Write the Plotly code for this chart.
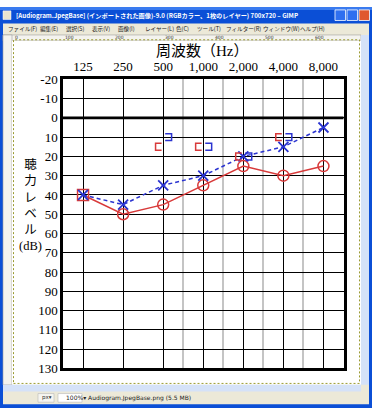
import math
import plotly.graph_objects as go

# ---------------- data ----------------
freqs = [125, 250, 500, 1000, 2000, 4000, 8000]
freq_labels = ["125", "250", "500", "1,000", "2,000", "4,000", "8,000"]
half_octaves = [707, 1414, 2828, 5657]
db_ticks = list(range(-20, 131, 10))

right_air = [40, 50, 45, 35, 25, 30, 25]          # red circles
right_air_symbols = ["square-open", "circle-open", "circle-open", "circle-open",
                     "circle-open", "circle-open", "circle-open"]
left_air = [40, 45, 35, 30, 20, 15, 5]            # blue crosses

bone_freqs = [500, 1000, 2000, 4000]
right_bone = [15, 15, 20, 10]                     # red ⊏
left_bone = [10, 15, 20, 10]                      # blue ⊐

RED = "#d83a3a"
BLUE = "#2b34d0"
W, H = 372, 416


def px(x):
    return x / W


def py(y):
    return 1 - y / H


def brackets(fs, levels, side):
    xs, ys = [], []
    for f, l in zip(fs, levels):
        if side == "left":
            xo, xb = f * 2 ** (-0.04), f * 2 ** (-0.19)
        else:
            xo, xb = f * 2 ** (0.05), f * 2 ** (0.21)
        xs += [xo, xb, xb, xo, None]
        ys += [l - 1.8, l - 1.8, l + 1.8, l + 1.8, None]
    return xs, ys


fig = go.Figure()

fig.add_trace(go.Scatter(
    x=freqs, y=right_air, mode="lines+markers",
    line=dict(color=RED, width=1.5),
    marker=dict(symbol=right_air_symbols, size=11, color=RED, line=dict(color=RED, width=1.5)),
    showlegend=False, hoverinfo="skip"))

fig.add_trace(go.Scatter(
    x=freqs, y=left_air, mode="lines+markers",
    line=dict(color=BLUE, width=1.5, dash="4px,3px"),
    marker=dict(symbol="x-thin", size=10, color=BLUE, line=dict(color=BLUE, width=1.8)),
    showlegend=False, hoverinfo="skip"))

bx, by = brackets(bone_freqs, right_bone, "left")
fig.add_trace(go.Scatter(x=bx, y=by, mode="lines", line=dict(color=RED, width=1.5),
                         showlegend=False, hoverinfo="skip"))
bx, by = brackets(bone_freqs, left_bone, "right")
fig.add_trace(go.Scatter(x=bx, y=by, mode="lines", line=dict(color=BLUE, width=1.5),
                         showlegend=False, hoverinfo="skip"))

serif = "Liberation Serif, Noto Sans CJK JP"
ui = "Noto Sans CJK JP, DejaVu Sans"

fig.update_xaxes(
    type="log",
    range=[math.log10(125) - math.log10(2) / 2, math.log10(8000) + math.log10(2) / 2],
    domain=[px(63), px(343.5)],
    side="top", tickmode="array", tickvals=freqs, ticktext=freq_labels,
    tickfont=dict(family=serif, size=13, color="black"),
    showgrid=True, gridcolor="black", gridwidth=1.3,
    minor=dict(tickmode="array", tickvals=half_octaves, showgrid=True,
               gridcolor="#c4c4c4", gridwidth=1.5, ticks=""),
    showline=True, mirror=True, linecolor="black", linewidth=2.5,
    zeroline=False, ticks="", fixedrange=True)

fig.update_yaxes(
    range=[130, -20], domain=[py(375), py(75)],
    tickmode="array", tickvals=db_ticks, ticktext=[str(v) for v in db_ticks],
    tickfont=dict(family=serif, size=13, color="black"),
    showgrid=True, gridcolor="black", gridwidth=1.3,
    showline=True, mirror=True, linecolor="black", linewidth=2.5,
    zeroline=False, ticks="", fixedrange=True)

shapes = []
# window chrome
shapes.append(dict(type="rect", xref="paper", yref="paper", x0=0, x1=1, y0=0, y1=1,
                   fillcolor="#0b4fd6", line=dict(width=0), layer="below"))
shapes.append(dict(type="rect", xref="paper", yref="paper", x0=px(0), x1=px(372), y0=py(3), y1=py(0),
                   fillcolor="#3a7bef", line=dict(width=0), layer="below"))
shapes.append(dict(type="rect", xref="paper", yref="paper", x0=px(3), x1=px(369), y0=py(412), y1=py(17),
                   fillcolor="#ece9d8", line=dict(width=0), layer="below"))
# rulers
shapes.append(dict(type="rect", xref="paper", yref="paper", x0=px(3), x1=px(361), y0=py(35), y1=py(29),
                   fillcolor="#f4f3ee", line=dict(color="#a0a0a0", width=0.6), layer="below"))
shapes.append(dict(type="rect", xref="paper", yref="paper", x0=px(3), x1=px(12), y0=py(392), y1=py(29),
                   fillcolor="#f4f3ee", line=dict(color="#a0a0a0", width=0.6), layer="below"))
# canvas
shapes.append(dict(type="rect", xref="paper", yref="paper", x0=px(12), x1=px(361), y0=py(392), y1=py(35),
                   fillcolor="white", line=dict(width=0), layer="below"))
shapes.append(dict(type="rect", xref="paper", yref="paper", x0=px(13.5), x1=px(359.5), y0=py(390.5), y1=py(34),
                   fillcolor="rgba(0,0,0,0)", line=dict(color="#9a9a30", width=1, dash="2px,2px"), layer="below"))
# scrollbars
shapes.append(dict(type="rect", xref="paper", yref="paper", x0=px(361), x1=px(369), y0=py(392), y1=py(29),
                   fillcolor="#d5e2f8", line=dict(width=0), layer="below"))
shapes.append(dict(type="rect", xref="paper", yref="paper", x0=px(3), x1=px(361), y0=py(399), y1=py(392),
                   fillcolor="#d5e2f8", line=dict(width=0), layer="below"))
# status bar widgets
shapes.append(dict(type="rect", xref="paper", yref="paper", x0=px(38), x1=px(54), y0=py(410), y1=py(401),
                   fillcolor="#f6f5f0", line=dict(color="#b8b8b8", width=0.6), layer="below"))
shapes.append(dict(type="rect", xref="paper", yref="paper", x0=px(58), x1=px(82), y0=py(410), y1=py(401),
                   fillcolor="white", line=dict(color="#b8b8b8", width=0.6), layer="below"))
# title bar buttons
for x0, col in [(335, "#2f6ff0"), (347, "#2f6ff0"), (359, "#e0582e")]:
    shapes.append(dict(type="rect", xref="paper", yref="paper", x0=px(x0), x1=px(x0 + 10.5),
                       y0=py(14), y1=py(3), fillcolor=col, line=dict(color="white", width=0.8),
                       layer="below"))
shapes.append(dict(type="rect", xref="paper", yref="paper", x0=px(3), x1=px(11), y0=py(13), y1=py(4),
                   fillcolor="#e8e4d0", line=dict(color="white", width=0.5), layer="below"))
# thick 0 dB line
shapes.append(dict(type="line", xref="x domain", yref="y", x0=0, x1=1, y0=0, y1=0,
                   line=dict(color="black", width=2.6), layer="above"))
fig.update_layout(shapes=shapes)

ann = []
ann.append(dict(text="<b>[Audiogram.JpegBase] (インポートされた画像)-9.0 (RGBカラー、1枚のレイヤー) 700x720 – GIMP</b>",
                x=px(14), y=py(9), xref="paper", yref="paper", xanchor="left", yanchor="middle",
                showarrow=False, font=dict(family=ui, size=6.2, color="white")))
menus = [("ファイル(F)", 6), ("編集(E)", 38), ("選択(S)", 64), ("表示(V)", 90), ("画像(I)", 116),
         ("レイヤー(L)", 143), ("色(C)", 174), ("ツール(T)", 195), ("フィルター(R)", 224),
         ("ウィンドウ(W)", 261), ("ヘルプ(H)", 298)]
for t, x in menus:
    ann.append(dict(text=t, x=px(x), y=py(23), xref="paper", yref="paper", xanchor="left",
                    yanchor="middle", showarrow=False, font=dict(family=ui, size=5.6, color="#222")))
for i, lab in enumerate(["0", "100", "200", "300", "400", "500", "600"]):
    ann.append(dict(text=lab, x=px(13 + 50 * i), y=py(31.5), xref="paper", yref="paper",
                    xanchor="left", yanchor="middle", showarrow=False,
                    font=dict(family="DejaVu Sans", size=4.5, color="#333")))
ann.append(dict(text="px▾", x=px(40), y=py(405.5), xref="paper", yref="paper", xanchor="left",
                yanchor="middle", showarrow=False, font=dict(family="DejaVu Sans", size=5.5, color="#333")))
ann.append(dict(text="100%▾ Audiogram.JpegBase.png (5.5 MB)", x=px(64), y=py(405.5), xref="paper",
                yref="paper", xanchor="left", yanchor="middle", showarrow=False,
                font=dict(family="DejaVu Sans", size=6, color="#222")))
ann.append(dict(text="周波数（Hz）", x=px(203), y=py(46), xref="paper", yref="paper",
                xanchor="center", yanchor="middle", showarrow=False,
                font=dict(family=serif, size=15, color="black")))
ann.append(dict(text="聴<br>力<br>レ<br>ベ<br>ル<br>(dB)", x=px(30), y=py(206), xref="paper", yref="paper",
                xanchor="center", yanchor="middle", showarrow=False, align="center",
                font=dict(family=serif, size=12.5, color="black")))
fig.update_layout(annotations=ann)

fig.update_layout(
    width=W, height=H, margin=dict(l=0, r=0, t=0, b=0),
    paper_bgcolor="white", plot_bgcolor="white", showlegend=False)

fig.write_html("out.html", config={"displayModeBar": False},
               post_script="document.body.style.margin='0px';document.body.style.overflow='hidden';")
